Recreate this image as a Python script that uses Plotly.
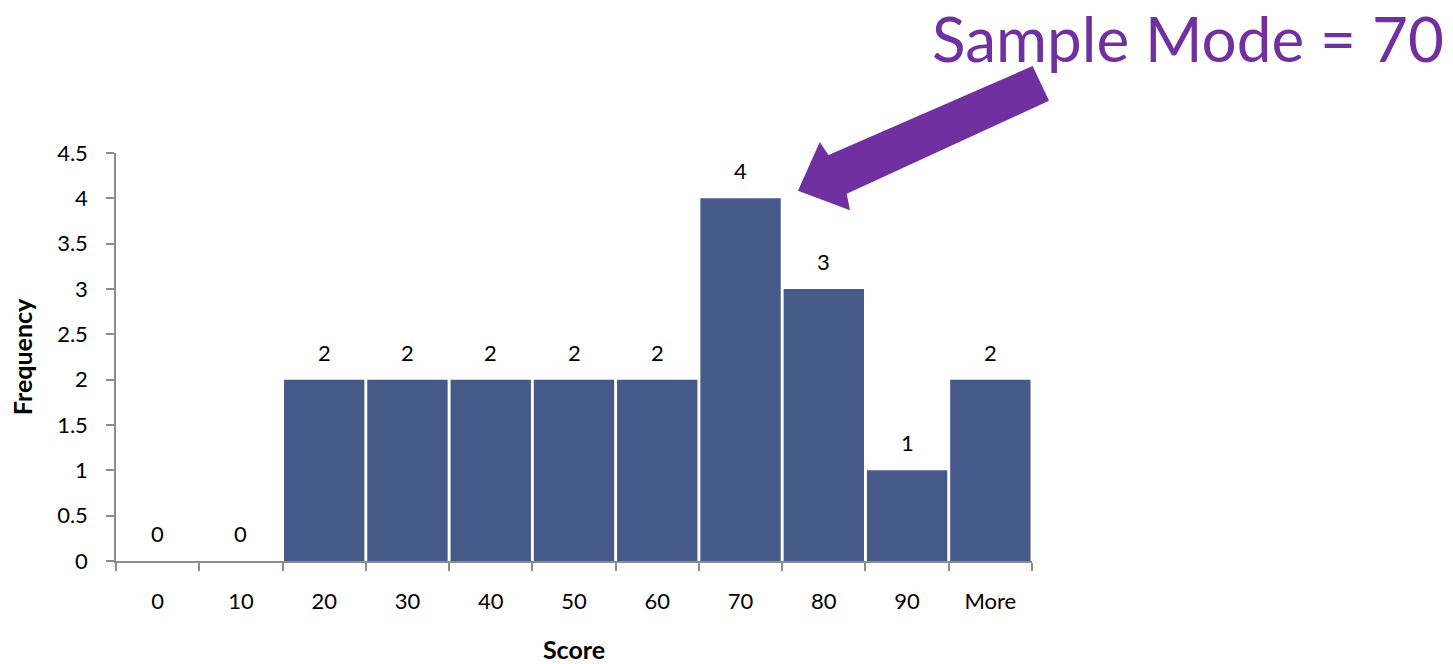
import plotly.graph_objects as go

# Histogram bins and counts
bins = ["0", "10", "20", "30", "40", "50", "60", "70", "80", "90", "More"]
counts = [0, 0, 2, 2, 2, 2, 2, 4, 3, 1, 2]
y_ticks = [0, 0.5, 1, 1.5, 2, 2.5, 3, 3.5, 4, 4.5]
y_tick_text = ["0", "0.5", "1", "1.5", "2", "2.5", "3", "3.5", "4", "4.5"]

W, H = 1453, 664
L, R, T, B = 116, 421, 153, 103
FONT = "Lato"
BAR = "#465A8A"
PURPLE = "#7030A0"
AXIS = "#8C8C8C"


def px(x, y):
    """Pixel position on the page -> paper coordinates."""
    return (x - L) / (W - L - R), (H - B - y) / (H - T - B)


fig = go.Figure()
fig.add_trace(go.Bar(
    x=bins, y=counts, marker=dict(color=BAR, line=dict(width=0)),
    hoverinfo="x+y", showlegend=False,
))

# value labels above each bar (category index keeps numeric-looking names in place)
for i, c in enumerate(counts):
    fig.add_annotation(x=i, y=c, text=str(c), showarrow=False, yanchor="bottom",
                       yshift=12, font=dict(family=FONT, size=22, color="black"))

# callout arrow pointing at the tallest bin
pts = [(1032, 68), (1047, 100), (845, 193), (848, 208), (800, 190),
       (820, 145), (828, 157)]
path = "M " + " L ".join("{:.4f},{:.4f}".format(*px(x, y)) for x, y in pts) + " Z"
fig.add_shape(type="path", path=path, xref="paper", yref="paper",
              fillcolor=PURPLE, line=dict(color=PURPLE, width=3), layer="above")

tx, ty = px(1446, 38)
fig.add_annotation(x=tx, y=ty, xref="paper", yref="paper", text="Sample Mode = 70",
                   showarrow=False, xanchor="right", yanchor="middle",
                   font=dict(family=FONT, size=62, color=PURPLE))

fig.update_layout(
    width=W, height=H,
    margin=dict(l=L, r=R, t=T, b=B, pad=0, autoexpand=False),
    paper_bgcolor="white", plot_bgcolor="white",
    bargap=0.035,
    font=dict(family=FONT, color="black"),
    xaxis=dict(
        type="category", range=[-0.5, 10.5], showline=True, linecolor=AXIS, linewidth=1.5,
        ticks="outside", tickson="boundaries", ticklen=8, tickcolor=AXIS, tickwidth=1.5,
        tickfont=dict(family=FONT, size=22), ticklabelstandoff=20, showgrid=False,
        title=dict(text="<b>Score</b>", font=dict(family=FONT, size=25), standoff=33),
        automargin=False, fixedrange=True,
    ),
    yaxis=dict(
        range=[0, 4.5], tickvals=y_ticks, ticktext=y_tick_text, showline=True,
        linecolor=AXIS, linewidth=1.5, ticks="outside", ticklen=8, tickcolor=AXIS,
        tickwidth=1.5, tickfont=dict(family=FONT, size=22), ticklabelstandoff=14,
        showgrid=False, zeroline=False,
        title=dict(text="<b>Frequency</b>", font=dict(family=FONT, size=25), standoff=17),
        automargin=False, fixedrange=True,
    ),
)

fig.write_html("out.html")
